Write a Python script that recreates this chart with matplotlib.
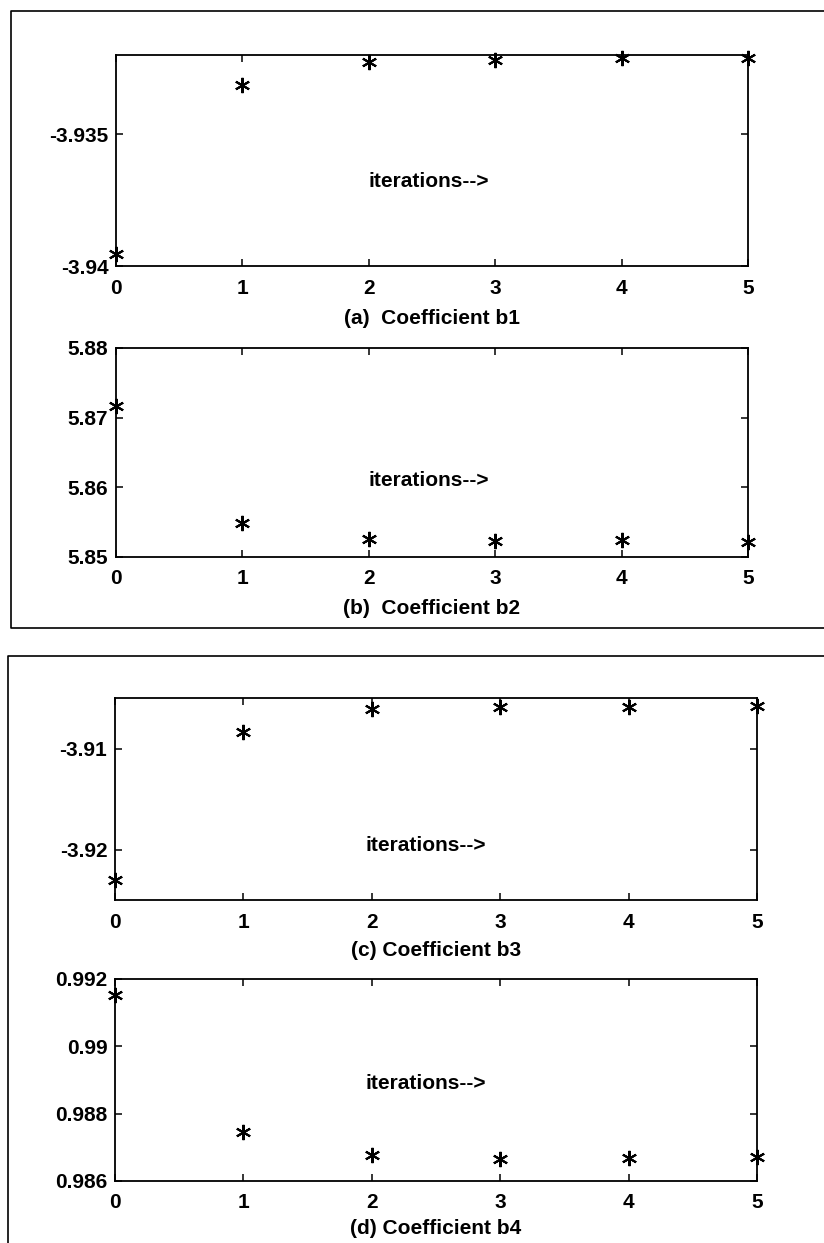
import numpy as np
import matplotlib
matplotlib.use('Agg')
import matplotlib.pyplot as plt
from matplotlib.lines import Line2D

plt.rcParams['font.family'] = ['Liberation Sans', 'DejaVu Sans']
plt.rcParams['font.weight'] = 'bold'

# data
iters = [0, 1, 2, 3, 4, 5]
b1 = [-3.93954, -3.93313, -3.93225, -3.9322, -3.9321, -3.9321]
b2 = [5.8717, 5.8549, 5.8526, 5.8523, 5.8525, 5.8522]
b3 = [-3.9230, -3.9084, -3.9061, -3.9059, -3.9059, -3.9058]
b4 = [0.99152, 0.98746, 0.98677, 0.98665, 0.98668, 0.98671]

b1_ticks = [-3.94, -3.935]
b1_labels = ['-3.94', '-3.935']
b2_ticks = [5.85, 5.86, 5.87, 5.88]
b2_labels = ['5.85', '5.86', '5.87', '5.88']
b3_ticks = [-3.92, -3.91]
b3_labels = ['-3.92', '-3.91']
b4_ticks = [0.986, 0.988, 0.99, 0.992]
b4_labels = ['0.986', '0.988', '0.99', '0.992']

captions = ['(a)  Coefficient b1', '(b)  Coefficient b2',
            '(c) Coefficient b3', '(d) Coefficient b4']
note = 'iterations-->'

W, H = 824, 1243
fig = plt.figure(figsize=(W / 100, H / 100), dpi=100)
FS = 15

def px_box(l, t, r, b):
    return [l / W, 1 - b / H, (r - l) / W, (b - t) / H]

panels = [
    (px_box(116, 55, 748, 266), b1, (-3.94, -3.932), b1_ticks, b1_labels, (2.0, -3.9368), captions[0], 52),
    (px_box(116, 348, 748, 557), b2, (5.85, 5.88), b2_ticks, b2_labels, (2.0, 5.861), captions[1], 52),
    (px_box(115, 698, 757, 900), b3, (-3.925, -3.905), b3_ticks, b3_labels, (1.95, -3.9196), captions[2], 50),
    (px_box(115, 979, 757, 1181), b4, (0.986, 0.992), b4_ticks, b4_labels, (1.95, 0.9889), captions[3], 47),
]

for rect, vals, ylim, yt, ytl, txt_pos, cap, cap_off in panels:
    ax = fig.add_axes(rect)
    ax.plot(iters, vals, linestyle='none', marker=(6, 2, 0), markersize=11,
            markeredgewidth=1.5, color='black', clip_on=False)
    ax.set_xlim(0, 5)
    ax.set_ylim(*ylim)
    ax.set_xticks(iters)
    ax.set_xticklabels([str(i) for i in iters])
    ax.set_yticks(yt)
    ax.set_yticklabels(ytl)
    ax.tick_params(direction='in', length=5, width=1.1, top=True, right=True,
                   labelsize=FS)
    ax.tick_params(axis='x', pad=9)
    ax.tick_params(axis='y', pad=5.5)
    for s in ax.spines.values():
        s.set_linewidth(1.3)
    ax.text(txt_pos[0], txt_pos[1], note, fontsize=FS, fontweight='bold',
            ha='left', va='center')
    ax.annotate(cap, xy=(0.5, 0), xycoords='axes fraction',
                xytext=(0, -cap_off * 0.72), textcoords='offset points',
                ha='center', va='center', fontsize=FS, fontweight='bold')

# scanned page frames around the two figure pairs
def fline(xs, ys):
    fig.add_artist(Line2D([x / W for x in xs], [1 - y / H for y in ys],
                          transform=fig.transFigure, color='black', linewidth=1.2))

fline([824, 11, 11, 824], [11, 11, 628, 628])
fline([824, 8, 8], [656, 656, 1243])

fig.savefig('out.png', dpi=100)
